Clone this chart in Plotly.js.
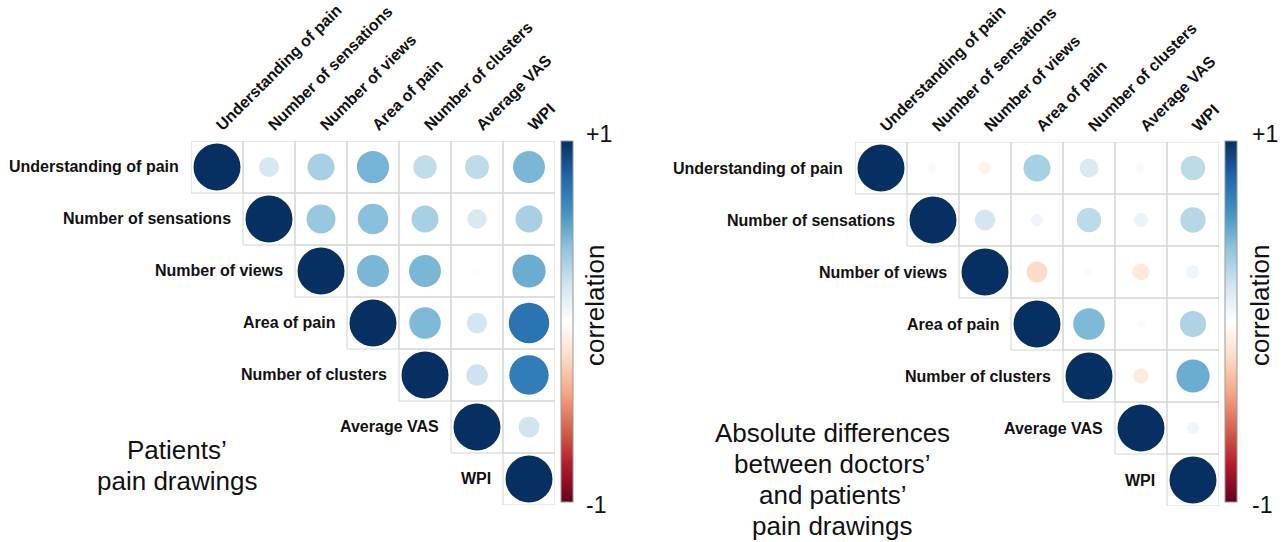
<!DOCTYPE html>
<html><head><meta charset="utf-8">
<script src="https://cdn.plot.ly/plotly-3.0.1.min.js"></script>
<style>html,body{margin:0;padding:0;background:#fff}#c{width:1285px;height:542px}</style>
</head><body><div id="c"></div>
<script>
const variables = ["Understanding of pain","Number of sensations","Number of views","Area of pain","Number of clusters","Average VAS","WPI"];
// upper-triangle correlations (row i, columns i..7); null = lower triangle
const patientsCorr = [
  [1, 0.18, 0.33, 0.47, 0.25, 0.26, 0.46],
  [null, 1, 0.38, 0.42, 0.33, 0.17, 0.33],
  [null, null, 1, 0.46, 0.46, 0.02, 0.50],
  [null, null, null, 1, 0.45, 0.19, 0.74],
  [null, null, null, null, 1, 0.21, 0.70],
  [null, null, null, null, null, 1, 0.20],
  [null, null, null, null, null, null, 1]
];
const diffCorr = [
  [1, -0.03, -0.07, 0.33, 0.16, -0.03, 0.27],
  [null, 1, 0.19, 0.07, 0.27, 0.09, 0.29],
  [null, null, 1, -0.20, -0.03, -0.13, 0.08],
  [null, null, null, 1, 0.45, 0.03, 0.31],
  [null, null, null, null, 1, -0.11, 0.50],
  [null, null, null, null, null, 1, 0.07],
  [null, null, null, null, null, null, 1]
];
const leftCaption = ["Patients\u2019", "pain drawings"];
const rightCaption = ["Absolute differences", "between doctors\u2019", "and patients\u2019", "pain drawings"];
const colorbarTicks = ["-1", "+1"];
const colorbarTitle = "correlation";

const W = 1285, H = 542;
const px = v => v / W, py = v => 1 - v / H;
const rdbu = ["#67001F","#B2182B","#D6604D","#F4A582","#FDDBC7","#FFFFFF","#D1E5F0","#92C5DE","#4393C3","#2166AC","#053061"];
const cscale = rdbu.map((c, i) => [i / (rdbu.length - 1), c]);
const FULL = 47;
const FAM = "Liberation Sans, Arial, sans-serif";

function buildTrace(mat, xa, ya, cax) {
  const x = [], y = [], c = [], s = [];
  mat.forEach((row, i) => row.forEach((v, j) => {
    if (v === null) return;
    x.push(j + 1); y.push(i + 1); c.push(v); s.push(FULL * Math.sqrt(Math.abs(v)));
  }));
  return {type: "scatter", mode: "markers", x, y, xaxis: xa, yaxis: ya, hoverinfo: "skip",
    marker: {size: s, color: c, coloraxis: cax, line: {width: 0}, opacity: 1}, showlegend: false};
}
const shapes = [], annotations = [];
function gridAndLabels(mat, xr, yr) {
  mat.forEach((row, i) => row.forEach((v, j) => {
    if (v === null) return;
    shapes.push({type: "rect", xref: xr, yref: yr, x0: j + 0.5, x1: j + 1.5, y0: i + 0.5, y1: i + 1.5,
      line: {color: "#d4d4d4", width: 1}, layer: "below"});
  }));
  variables.forEach((name, i) => {
    annotations.push({xref: xr, yref: yr, x: i + 0.5, y: i + 1, text: name, showarrow: false,
      xanchor: "right", yanchor: "middle", xshift: -10,
      font: {family: FAM, size: 16, weight: "bold", color: "#111"}});
  });
}
gridAndLabels(patientsCorr, "x", "y");
gridAndLabels(diffCorr, "x2", "y2");

const capFont = {family: FAM, size: 26, color: "#111"};
leftCaption.forEach((t, k) => annotations.push({xref: "paper", yref: "paper", x: px(177), y: py(450 + k * 31),
  text: t, showarrow: false, xanchor: "center", yanchor: "middle", font: capFont}));
rightCaption.forEach((t, k) => annotations.push({xref: "paper", yref: "paper", x: px(832), y: py(433 + k * 31),
  text: t, showarrow: false, xanchor: "center", yanchor: "middle", font: capFont}));
[[595, 1250 + 10], [1260, 1260]].forEach(() => {});
[[595, 584], [1260, 1250]].forEach(([tx, lx]) => {
  annotations.push({xref: "paper", yref: "paper", x: px(tx), y: py(306), text: colorbarTitle, textangle: -90,
    showarrow: false, xanchor: "center", yanchor: "middle", font: {family: FAM, size: 26, color: "#111"}});
  annotations.push({xref: "paper", yref: "paper", x: px(lx), y: py(134), text: colorbarTicks[1],
    showarrow: false, xanchor: "left", yanchor: "middle", font: {family: FAM, size: 23, color: "#111"}});
  annotations.push({xref: "paper", yref: "paper", x: px(lx), y: py(505), text: colorbarTicks[0],
    showarrow: false, xanchor: "left", yanchor: "middle", font: {family: FAM, size: 23, color: "#111"}});
});

function xaxis(d, anchor) {
  return {domain: d, range: [0.5, 7.5], anchor, side: "top", tickvals: [1,2,3,4,5,6,7], ticktext: variables,
    tickangle: -45, ticks: "", showgrid: false, zeroline: false, showline: false, fixedrange: true,
    ticklabelstandoff: 3,
    tickfont: {family: FAM, size: 16, weight: "bold", color: "#111"}};
}
function yaxis(d, anchor) {
  return {domain: d, range: [7.5, 0.5], anchor, showticklabels: false, ticks: "", showgrid: false,
    zeroline: false, showline: false, fixedrange: true};
}
function cbar(xl) {
  return {cmin: -1, cmax: 1, colorscale: cscale,
    colorbar: {x: px(xl), xanchor: "left", xpad: 0, ypad: 0, thickness: 12, len: 361 / H, lenmode: "fraction",
      y: py(321.5), yanchor: "middle", outlinewidth: 1, outlinecolor: "#999", tickvals: [], showticklabels: false,
      ticks: ""}};
}

const layout = {
  width: W, height: H, margin: {l: 0, r: 0, t: 0, b: 0}, paper_bgcolor: "#fff", plot_bgcolor: "#fff",
  xaxis: xaxis([px(191), px(555)], "y"), yaxis: yaxis([py(505), py(141)], "x"),
  xaxis2: xaxis([px(855), px(1219)], "y2"), yaxis2: yaxis([py(506), py(142)], "x2"),
  coloraxis: cbar(561), coloraxis2: cbar(1225),
  shapes, annotations, showlegend: false
};
Plotly.newPlot("c", [buildTrace(patientsCorr, "x", "y", "coloraxis"), buildTrace(diffCorr, "x2", "y2", "coloraxis2")],
  layout, {staticPlot: true});
</script></body></html>
